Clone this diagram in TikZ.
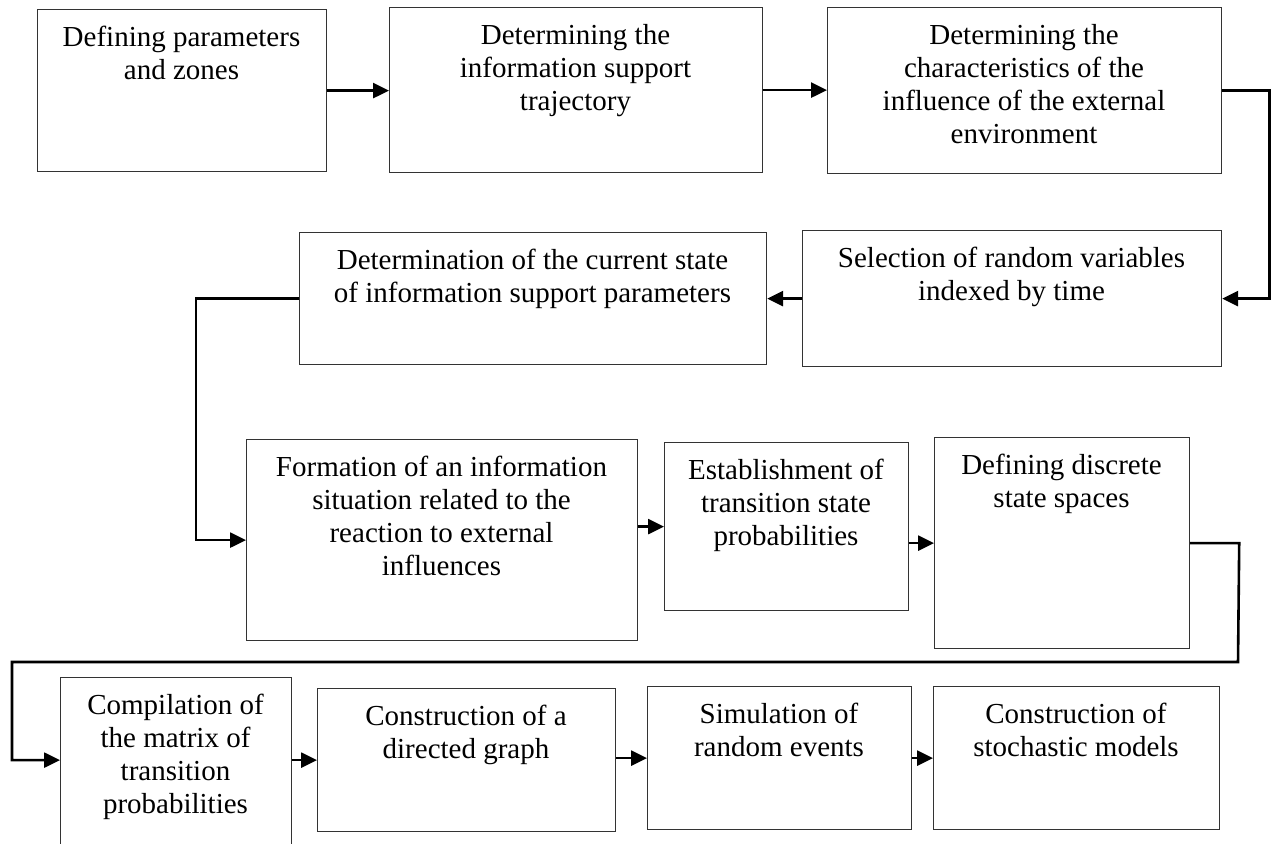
\documentclass[tikz,border=0pt]{standalone}
\usepackage{fontspec}
\setmainfont{Liberation Serif}
\usetikzlibrary{arrows.meta}
\begin{document}
\begin{tikzpicture}[x=0.5pt,y=-0.5pt,
  box/.style={draw=black!80, line width=0.6pt, anchor=north west, inner sep=0pt},
  txt/.style={anchor=north, align=center, inner sep=0pt, font=\fontsize{14.5pt}{16.5pt}\selectfont},
  conn/.style={line width=1.3pt, -{Triangle[length=8pt,width=7.5pt]}}]
\path[use as bounding box, clip] (0,0) rectangle (1277,843);
\fill[white] (0,0) rectangle (1277,843);
% boxes
\node[box, minimum width=144.5pt, minimum height=81pt] (A) at (37,9) {};
\node[box, minimum width=186.5pt, minimum height=82.5pt] (B) at (389,7) {};
\node[box, minimum width=197pt, minimum height=83pt] (C) at (827,7) {};
\node[box, minimum width=209.5pt, minimum height=68pt] (D) at (802,230) {};
\node[box, minimum width=233.5pt, minimum height=66pt] (E) at (299,232) {};
\node[box, minimum width=195.5pt, minimum height=100.5pt] (F) at (246,439) {};
\node[box, minimum width=122pt, minimum height=84pt] (G) at (664,442) {};
\node[box, minimum width=127.5pt, minimum height=105.5pt] (H) at (934,437) {};
\node[box, minimum width=115.5pt, minimum height=125pt] (I) at (60,677) {};
\node[box, minimum width=149pt, minimum height=71.5pt] (J) at (317,688) {};
\node[box, minimum width=132pt, minimum height=71.5pt] (K) at (647,686) {};
\node[box, minimum width=143pt, minimum height=71.5pt] (L) at (933,686) {};
% texts
\node[txt] (At) at (181.5,23) {\strut Defining parameters\\and zones};
\node[txt] (Bt) at (575.5,21) {\strut Determining the\\information support\\trajectory};
\node[txt] (Ct) at (1024,21) {\strut Determining the\\characteristics of the\\influence of the external\\environment};
\node[txt] (Dt) at (1011.5,244) {\strut Selection of random variables\\indexed by time};
\node[txt] (Et) at (532.5,246) {\strut Determination of the current state\\of information support parameters};
\node[txt] (Ft) at (441.5,453) {\strut Formation of an information\\situation related to the\\reaction to external\\influences};
\node[txt] (Gt) at (786,456) {\strut Establishment of\\transition state\\probabilities};
\node[txt] (Ht) at (1061.5,451) {\strut Defining discrete\\state spaces};
\node[txt] (It) at (175.5,691) {\strut Compilation of\\the matrix of\\transition\\probabilities};
\node[txt] (Jt) at (466,702) {\strut Construction of a\\directed graph};
\node[txt] (Kt) at (779,700) {\strut Simulation of\\random events};
\node[txt] (Lt) at (1076,700) {\strut Construction of\\stochastic models};
% connectors
\draw[conn] (A.east) -- (A.east -| B.west);
\draw[conn] (B.east) -- (B.east -| C.west);
\draw[conn] (C.east) -- ++(47,0) |- (D.east);
\draw[conn] (D.west) -- (D.west -| E.east);
\draw[conn] (E.west) -- ++(-103,0) |- (F.west);
\draw[conn] (F.east |- G.west) -- (G.west);
\draw[conn] (G.east |- H.west) -- (H.west);
\draw[conn] (H.east) -- ++(49,0) -- (1238,662) -- (12,662) |- (I.west |- J.west);
\draw[conn] (I.east |- J.west) -- (J.west);
\draw[conn] (J.east |- K.west) -- (K.west);
\draw[conn] (K.east) -- (K.east -| L.west);
\end{tikzpicture}
\end{document}
